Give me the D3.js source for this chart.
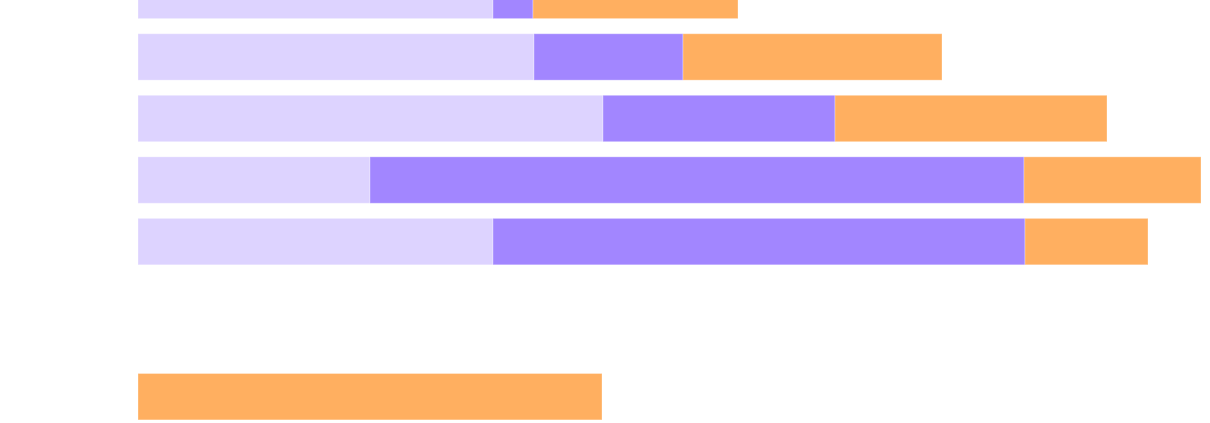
<!DOCTYPE html>
<html lang="en">
<head>
<meta charset="UTF-8">
<script src="https://d3js.org/d3.v7.min.js"></script>
<style>
    body { margin: 0; background: #fff; }
    svg { display: block; }
</style>
</head>
<body>
<div id="chart"></div>
<script>
    // rows from top to bottom (first one is cut off by the top edge)
    const rows = ["r1", "r2", "r3", "r4", "r5", "total"];
    const groups = [0, 0, 0, 0, 0, 1];
    const seriesNames = ["base", "middle", "upper"];
    const baseValues   = [35.5, 39.6, 46.5, 23.2, 35.5, 0];
    const middleValues = [4.0, 14.9, 23.2, 65.4, 53.2, 0];
    const upperValues  = [20.5, 25.9, 27.2, 17.7, 12.3, 46.4];
    const colors = ["#ddd3ff", "#a286ff", "#ffaf60"];

    const width = 1210, height = 423;
    const margin = { left: 138 };
    const step = 61.55, barH = 46.4, firstTop = -27.8, groupGap = 1.52;

    const table = rows.map((r, i) => ({
        row: r,
        base: baseValues[i],
        middle: middleValues[i],
        upper: upperValues[i],
        slot: i + groups[i] * groupGap
    }));
    const stacked = d3.stack().keys(seriesNames)(table);

    const x = d3.scaleLinear().domain([0, 100]).range([margin.left, margin.left + 1000]);
    const y = d3.scaleLinear().domain([0, 1]).range([firstTop, firstTop + step]);

    const svg = d3.select("#chart").append("svg")
        .attr("width", width)
        .attr("height", height);

    svg.selectAll("g.series")
        .data(stacked)
        .enter().append("g")
        .attr("class", "series")
        .attr("fill", (d, i) => colors[i])
        .selectAll("rect")
        .data(d => d.filter(p => p[1] - p[0] > 0))
        .enter().append("rect")
        .attr("x", d => x(d[0]))
        .attr("y", d => y(d.data.slot))
        .attr("width", d => x(d[1]) - x(d[0]))
        .attr("height", barH)
        .attr("stroke", "#fff")
        .attr("stroke-opacity", 0.3)
        .attr("stroke-width", 1);
</script>
</body>
</html>
